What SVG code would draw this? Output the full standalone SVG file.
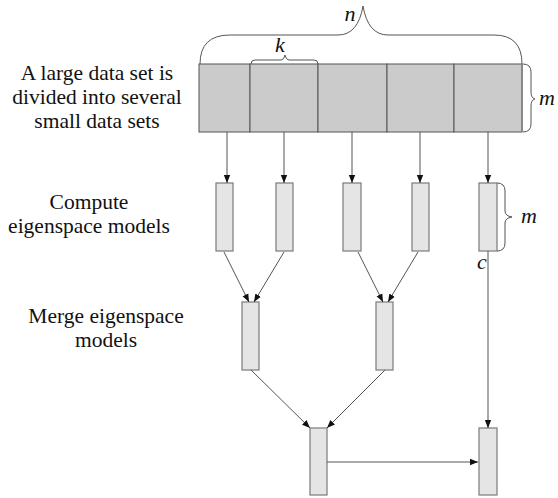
<svg xmlns="http://www.w3.org/2000/svg" width="558" height="498" viewBox="0 0 558 498">
<style>
.lbl{font-size:21.5px;fill:#111;text-anchor:middle}
.it{font-size:22px;font-style:italic;fill:#111;text-anchor:middle}
.cell{fill:#cbcbcb;stroke:#555;stroke-width:1}
.box{fill:#e5e5e5;stroke:#7a7a7a;stroke-width:1.2}
.edge{stroke:#555;stroke-width:1;fill:none}
.brace{stroke:#555;stroke-width:1;fill:none}
</style>
<defs>
<marker id="ah" viewBox="0 0 10 10" refX="10" refY="5" markerWidth="8" markerHeight="8" markerUnits="userSpaceOnUse" orient="auto">
<path d="M0,1 L10,5 L0,9 z" fill="#111"/>
</marker>
</defs>
<rect width="558" height="498" fill="#fff"/>

<g id="labels" font-family="Liberation Serif, DejaVu Serif, serif">
<text class="lbl" x="97" y="80">A large data set is</text>
<text class="lbl" x="97" y="104">divided into several</text>
<text class="lbl" x="97" y="128">small data sets</text>
<text class="lbl" x="89" y="209">Compute</text>
<text class="lbl" x="89" y="233">eigenspace models</text>
<text class="lbl" x="106" y="323">Merge eigenspace</text>
<text class="lbl" x="106" y="347">models</text>
</g>

<g id="dataset">
<rect class="cell" x="199" y="64" width="51" height="68"/>
<rect class="cell" x="250" y="64" width="68" height="68"/>
<rect class="cell" x="318" y="64" width="69" height="68"/>
<rect class="cell" x="387" y="64" width="67" height="68"/>
<rect class="cell" x="454" y="64" width="68" height="68"/>
<line x1="522" y1="64" x2="522" y2="132" stroke="#888" stroke-width="2"/>
</g>

<g id="braces">
<path class="brace" d="M200,64 Q200,35 230,35 L338,35 Q358,35 363,6 Q368,35 388,35 L494,35 Q522,35 522,64"/>
<path class="brace" d="M251,64 Q251,60 255,60 L281,60 Q284,60 285,55 Q286,60 289,60 L314,60 Q318,60 318,64"/>
<path class="brace" d="M523,64 Q531,64 531,72 L531,92 Q531,98 535,99 Q531,100 531,106 L531,124 Q531,132 523,132"/>
<path class="brace" d="M497,183 Q505,183 505,191 L505,211 Q505,216 512,217 Q505,218 505,223 L505,243 Q505,251 497,251"/>
</g>

<g id="vars" font-family="Liberation Serif, DejaVu Serif, serif">
<text class="it" x="350" y="21">n</text>
<text class="it" x="280" y="52">k</text>
<text class="it" x="547" y="105">m</text>
<text class="it" x="529" y="223">m</text>
<text class="it" x="482" y="269">c</text>
</g>

<g id="compute">
<rect class="box" x="216" y="183" width="17" height="68"/>
<rect class="box" x="276" y="183" width="17" height="68"/>
<rect class="box" x="343" y="183" width="18" height="68"/>
<rect class="box" x="412" y="183" width="17" height="68"/>
<rect class="box" x="479" y="183" width="18" height="68"/>
</g>

<g id="merge">
<rect class="box" x="242" y="302" width="17" height="68"/>
<rect class="box" x="376" y="302" width="17" height="68"/>
</g>

<g id="final">
<rect class="box" x="310" y="428" width="17" height="67"/>
<rect class="box" x="479" y="428" width="18" height="67"/>
</g>

<g id="connectors">
<line class="edge" x1="227" y1="132" x2="227" y2="183" marker-end="url(#ah)"/>
<line class="edge" x1="284" y1="132" x2="284" y2="183" marker-end="url(#ah)"/>
<line class="edge" x1="352" y1="132" x2="352" y2="183" marker-end="url(#ah)"/>
<line class="edge" x1="420" y1="132" x2="420" y2="183" marker-end="url(#ah)"/>
<line class="edge" x1="488" y1="132" x2="488" y2="183" marker-end="url(#ah)"/>
<line class="edge" x1="224" y1="252" x2="249" y2="302" marker-end="url(#ah)"/>
<line class="edge" x1="284" y1="252" x2="254" y2="302" marker-end="url(#ah)"/>
<line class="edge" x1="358" y1="252" x2="383" y2="302" marker-end="url(#ah)"/>
<line class="edge" x1="418" y1="252" x2="388" y2="302" marker-end="url(#ah)"/>
<line class="edge" x1="251" y1="370" x2="310" y2="428" marker-end="url(#ah)"/>
<line class="edge" x1="385" y1="370" x2="327" y2="428" marker-end="url(#ah)"/>
<line class="edge" x1="488" y1="251" x2="488" y2="428" marker-end="url(#ah)"/>
<line class="edge" x1="327" y1="462" x2="478" y2="462" marker-end="url(#ah)"/>
</g>
</svg>
